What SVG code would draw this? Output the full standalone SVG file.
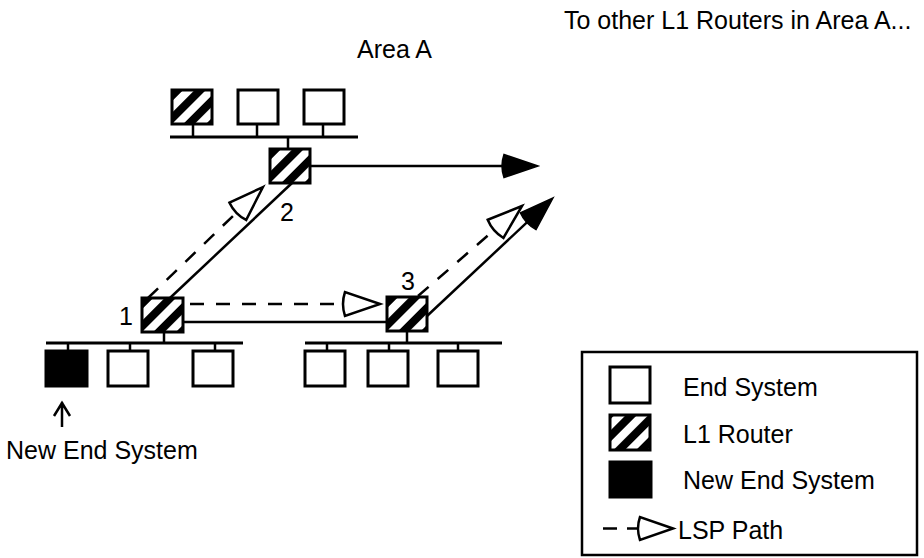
<svg xmlns="http://www.w3.org/2000/svg" width="924" height="558" viewBox="0 0 924 558">
  <defs>
    <style>
      text { font-family: "Liberation Sans", Arial, Helvetica, sans-serif; font-size: 25px; fill: #000; }
      .box { stroke: #000; stroke-width: 3; fill: #fff; }
      .router { stroke: #000; stroke-width: 3; fill: url(#hatch); }
      .new { stroke: #000; stroke-width: 3; fill: #000; }
      .lan { stroke: #000; stroke-width: 3; fill: none; }
      .tick { stroke: #000; stroke-width: 2.5; fill: none; }
      .link { stroke: #000; stroke-width: 2.5; fill: none; }
      .solid { marker-end: url(#head-filled); }
      .lsp { stroke-dasharray: 14 12; marker-end: url(#head-open); }
    </style>
    <!-- diagonal stripes for L1 routers -->
    <pattern id="hatch" patternUnits="userSpaceOnUse" width="16" height="16" patternTransform="rotate(45)">
      <rect x="0" y="0" width="16" height="16" fill="#fff"/>
      <rect x="0" y="0" width="8" height="16" fill="#000"/>
    </pattern>
    <marker id="head-filled" markerUnits="userSpaceOnUse" viewBox="-40 -14 46 28" refX="-4" refY="0" markerWidth="46" markerHeight="28" orient="auto" overflow="visible">
      <path d="M0,0 L-34,-11.5 Q-38,0 -34,11.5 Z" fill="#000" stroke="#000" stroke-width="1.5" stroke-linejoin="miter"/>
    </marker>
    <marker id="head-open" markerUnits="userSpaceOnUse" viewBox="-40 -14 46 28" refX="-4" refY="0" markerWidth="46" markerHeight="28" orient="auto" overflow="visible">
      <path d="M0,0 L-35,-12 Q-39,0 -35,12 Z" fill="#fff" stroke="#000" stroke-width="2.5" stroke-linejoin="miter"/>
    </marker>
  </defs>

  <rect width="924" height="558" fill="#fff"/>

  <!-- labels -->
  <text x="564" y="29">To other L1 Routers in Area A...</text>
  <text x="357" y="58">Area A</text>

  <!-- LAN segments -->
  <g id="lan-top">
    <line class="lan" x1="170" y1="137" x2="358" y2="137"/>
    <line class="tick" x1="193" y1="124" x2="193" y2="137"/>
    <line class="tick" x1="257" y1="124" x2="257" y2="137"/>
    <line class="tick" x1="323" y1="124" x2="323" y2="137"/>
    <line class="tick" x1="288" y1="137" x2="288" y2="149"/>
  </g>
  <g id="lan-left">
    <line class="lan" x1="46" y1="343" x2="243" y2="343"/>
    <line class="tick" x1="164" y1="332" x2="164" y2="343"/>
    <line class="tick" x1="68" y1="343" x2="68" y2="351"/>
    <line class="tick" x1="130" y1="343" x2="130" y2="351"/>
    <line class="tick" x1="215" y1="343" x2="215" y2="351"/>
  </g>
  <g id="lan-right">
    <line class="lan" x1="305" y1="343" x2="502" y2="343"/>
    <line class="tick" x1="407" y1="331" x2="407" y2="343"/>
    <line class="tick" x1="327" y1="343" x2="327" y2="351"/>
    <line class="tick" x1="389" y1="343" x2="389" y2="351"/>
    <line class="tick" x1="458" y1="343" x2="458" y2="351"/>
  </g>

  <!-- links and LSP flooding paths -->
  <g id="connectors">
    <line class="link" x1="170" y1="298" x2="292" y2="183"/>
    <line class="link" x1="183" y1="322" x2="387" y2="322"/>
    <line class="link solid" x1="311" y1="166" x2="534" y2="166"/>
    <line class="link solid" x1="427" y1="316" x2="550.1" y2="200.7"/>
    <line class="link lsp" x1="148" y1="298" x2="260.1" y2="189.8"/>
    <line class="link lsp" x1="190" y1="304" x2="376" y2="304"/>
    <line class="link lsp" x1="418" y1="296" x2="519" y2="208.6"/>
  </g>

  <!-- top segment hosts -->
  <g id="router-top-lan" transform="translate(172,90)"><rect class="router" width="40" height="34"/></g>
  <g id="es-top-1" transform="translate(238,90)"><rect class="box" width="40" height="34"/></g>
  <g id="es-top-2" transform="translate(304,90)"><rect class="box" width="40" height="34"/></g>

  <!-- routers -->
  <g id="router-2" transform="translate(270,149)">
    <rect class="router" width="40" height="34"/>
    <text x="10" y="72">2</text>
  </g>
  <g id="router-1" transform="translate(142,298)">
    <rect class="router" width="41" height="34"/>
    <text x="-23" y="27">1</text>
  </g>
  <g id="router-3" transform="translate(387,297)">
    <rect class="router" width="40" height="34"/>
    <text x="14" y="-7">3</text>
  </g>

  <!-- left segment hosts -->
  <g id="es-new" transform="translate(46,351)">
    <rect class="new" width="41" height="35"/>
    <path d="M16,76 L16,51 M8,65 L16,52 L24,65" fill="none" stroke="#000" stroke-width="2.5"/>
    <text x="-40" y="108">New End System</text>
  </g>
  <g id="es-left-1" transform="translate(108,351)"><rect class="box" width="40" height="35"/></g>
  <g id="es-left-2" transform="translate(193,351)"><rect class="box" width="40" height="35"/></g>

  <!-- right segment hosts -->
  <g id="es-right-1" transform="translate(305,351)"><rect class="box" width="40" height="35"/></g>
  <g id="es-right-2" transform="translate(368,351)"><rect class="box" width="40" height="35"/></g>
  <g id="es-right-3" transform="translate(438,351)"><rect class="box" width="40" height="35"/></g>

  <!-- legend -->
  <g id="legend">
    <rect x="582" y="352" width="335" height="203" fill="#fff" stroke="#000" stroke-width="2.5"/>
    <rect class="box" x="610" y="367" width="40" height="36"/>
    <text x="683" y="396">End System</text>
    <rect class="router" x="610" y="415" width="40" height="35"/>
    <text x="683" y="443">L1 Router</text>
    <rect class="new" x="610" y="462" width="41" height="35"/>
    <text x="683" y="489">New End System</text>
    <line class="link" x1="603" y1="528.5" x2="617" y2="528.5"/>
    <line class="link" x1="627" y1="528.5" x2="645" y2="528.5"/>
    <path d="M673,528.5 L640,517 Q636,528.5 640,540 Z" fill="#fff" stroke="#000" stroke-width="2.5"/>
    <text x="678" y="539">LSP Path</text>
  </g>
</svg>
